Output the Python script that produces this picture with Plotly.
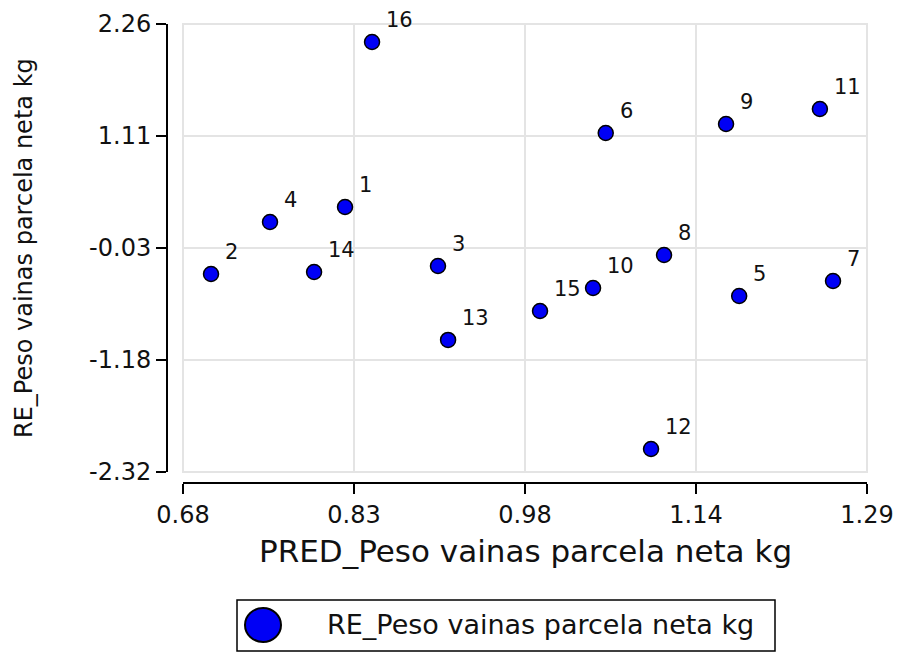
import plotly.graph_objects as go

# Residuals vs predicted values for plot pod weight
case_ids = ["1", "2", "3", "4", "5", "6", "7", "8", "9", "10", "11", "12", "13", "14", "15", "16"]
pred_kg = [0.8245, 0.705, 0.9074, 0.7576, 1.176, 1.057, 1.2597, 1.109,
           1.1643, 1.0457, 1.248, 1.0974, 0.9164, 0.7969, 0.9984, 0.8486]
resid_kg = [0.389, -0.296, -0.214, 0.236, -0.521, 1.146, -0.367, -0.102,
            1.238, -0.439, 1.391, -2.085, -0.970, -0.275, -0.674, 2.076]

x_tickvals = [0.68, 0.8325, 0.985, 1.1375, 1.29]
x_ticktext = ["0.68", "0.83", "0.98", "1.14", "1.29"]
y_tickvals = [2.26, 1.115, -0.03, -1.175, -2.32]
y_ticktext = ["2.26", "1.11", "-0.03", "-1.18", "-2.32"]

x_title = "PRED_Peso vainas parcela neta kg"
y_title = "RE_Peso vainas parcela neta kg"
series_name = "RE_Peso vainas parcela neta kg"

W, H = 901, 652
ML, MR, MT, MB = 167, 34, 24, 169
PW, PH = W - ML - MR, H - MT - MB
FONT = "DejaVu Sans, Liberation Sans, Arial, sans-serif"
TEXT = "#111"
MARKER_BLUE = "#0000f5"
GRID = "#e4e4e4"


def px_x(p):
    return (p - ML) / PW


def px_y(p):
    return (H - MB - p) / PH


fig = go.Figure()
fig.add_trace(go.Scatter(
    x=pred_kg, y=resid_kg, mode="markers", name=series_name,
    marker=dict(size=15, color=MARKER_BLUE, line=dict(color="black", width=1.5)),
    showlegend=False,
))

# Case-number labels next to each point
annotations = []
for cid, xv, yv in zip(case_ids, pred_kg, resid_kg):
    annotations.append(dict(
        x=xv, y=yv, xref="x", yref="y", text=cid, showarrow=False,
        xanchor="left", yanchor="bottom", xshift=12, yshift=8,
        font=dict(family=FONT, size=21, color=TEXT),
    ))

# Axis titles
annotations.append(dict(
    x=px_x(525), y=px_y(551), xref="paper", yref="paper", text=x_title,
    showarrow=False, xanchor="center", yanchor="middle",
    font=dict(family=FONT, size=31, color=TEXT),
))
annotations.append(dict(
    x=px_x(24), y=px_y(248), xref="paper", yref="paper", text=y_title,
    showarrow=False, xanchor="center", yanchor="middle", textangle=-90,
    font=dict(family=FONT, size=24, color=TEXT),
))

# Legend box with a large marker swatch
annotations.append(dict(
    x=px_x(325), y=px_y(624), xref="paper", yref="paper", text=series_name,
    showarrow=False, xanchor="left", yanchor="middle",
    font=dict(family=FONT, size=27, color=TEXT),
))

shapes = [
    # plot area frame
    dict(type="rect", xref="x domain", yref="y domain", x0=0, x1=1, y0=0, y1=1,
         line=dict(color=GRID, width=2), layer="below"),
    # legend frame
    dict(type="rect", xref="paper", yref="paper",
         x0=px_x(237), x1=px_x(775), y0=px_y(651), y1=px_y(600),
         line=dict(color="black", width=1.5)),
    # legend swatch
    dict(type="circle", xref="paper", yref="paper",
         x0=px_x(245), x1=px_x(281), y0=px_y(642), y1=px_y(608),
         fillcolor=MARKER_BLUE, line=dict(color="black", width=2)),
]

axis_common = dict(
    showline=True, linecolor="black", linewidth=2,
    ticks="outside", ticklen=10, tickwidth=2, tickcolor="black",
    showgrid=True, gridcolor=GRID, gridwidth=2, zeroline=False,
    tickfont=dict(family=FONT, size=24, color=TEXT),
    anchor="free", position=0, automargin=False,
)

fig.update_layout(
    width=W, height=H,
    margin=dict(l=ML, r=MR, t=MT, b=MB),
    paper_bgcolor="white", plot_bgcolor="white",
    showlegend=False,
    xaxis=dict(range=[0.68, 1.29], tickvals=x_tickvals, ticktext=x_ticktext,
               domain=[16 / PW, 1], **axis_common),
    yaxis=dict(range=[-2.32, 2.26], tickvals=y_tickvals, ticktext=y_ticktext,
               domain=[11 / PH, 1], **axis_common),
    annotations=annotations,
    shapes=shapes,
)

fig.write_html("out.html")
